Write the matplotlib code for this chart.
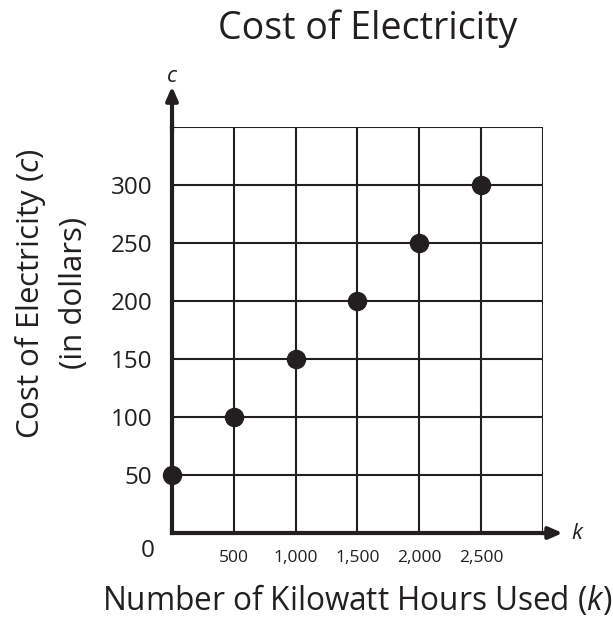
import matplotlib

matplotlib.use("Agg")
import matplotlib.pyplot as plt

# data
kwh = [0, 500, 1000, 1500, 2000, 2500]
cost = [50, 100, 150, 200, 250, 300]
x_ticks = [500, 1000, 1500, 2000, 2500]
x_tick_labels = ["500", "1,000", "1,500", "2,000", "2,500"]
y_ticks = [50, 100, 150, 200, 250, 300]

INK = "#231f20"
plt.rcParams["font.family"] = ["Open Sans", "DejaVu Sans"]
plt.rcParams["mathtext.fontset"] = "custom"
plt.rcParams["mathtext.rm"] = "Open Sans"
plt.rcParams["mathtext.it"] = "Open Sans:italic"

fig = plt.figure(figsize=(6.13, 6.2), dpi=100)
ax = fig.add_axes([0.2806, 0.1403, 0.605, 0.6548])

ax.set_xlim(0, 3000)
ax.set_ylim(0, 350)

# grid
for gx in range(500, 3001, 500):
    ax.axvline(gx, color=INK, lw=1.5, zorder=1)
for gy in range(50, 351, 50):
    ax.axhline(gy, color=INK, lw=1.5, zorder=1)

for s in ["top", "right"]:
    ax.spines[s].set_visible(False)
for s in ["left", "bottom"]:
    ax.spines[s].set_linewidth(3)
    ax.spines[s].set_color(INK)

# axis arrows
ax.annotate("", xy=(3160, 0), xytext=(2990, 0), xycoords="data",
            arrowprops=dict(arrowstyle="-|>,head_length=0.8,head_width=0.35",
                            color=INK, lw=3, shrinkA=0, shrinkB=0),
            annotation_clip=False)
ax.annotate("", xy=(0, 385), xytext=(0, 345), xycoords="data",
            arrowprops=dict(arrowstyle="-|>,head_length=0.8,head_width=0.35",
                            color=INK, lw=3, shrinkA=0, shrinkB=0),
            annotation_clip=False)
ax.text(3230, 0, "k", style="italic", fontsize=16, color=INK,
        va="center", ha="left", clip_on=False)
ax.text(0, 394, "c", style="italic", fontsize=16, color=INK,
        va="center", ha="center", clip_on=False)

ax.plot(kwh, cost, "o", color=INK, markersize=13, clip_on=False, zorder=5)

ax.set_xticks(x_ticks)
ax.set_xticklabels(x_tick_labels, fontsize=12.5, color=INK)
ax.set_yticks(y_ticks)
ax.set_yticklabels([str(v) for v in y_ticks], fontsize=17.5, color=INK)
ax.tick_params(axis="both", length=0)
ax.tick_params(axis="x", pad=12)
ax.tick_params(axis="y", pad=14)

ax.text(-0.065, -0.045, "0", transform=ax.transAxes, fontsize=17.5,
        color=INK, ha="center", va="center")

fig.text(0.6, 0.953, "Cost of Electricity", fontsize=27, color=INK,
         ha="center", va="center")
fig.text(0.583, 0.032, r"Number of Kilowatt Hours Used ($\it{k}$)", fontsize=22.7,
         color=INK, ha="center", va="center")
fig.text(0.083, 0.527, "Cost of Electricity ($\\it{c}$)\n(in dollars)", fontsize=22.5,
         color=INK, ha="center", va="center", rotation=90, linespacing=1.5)

fig.savefig("out.png", dpi=100)
